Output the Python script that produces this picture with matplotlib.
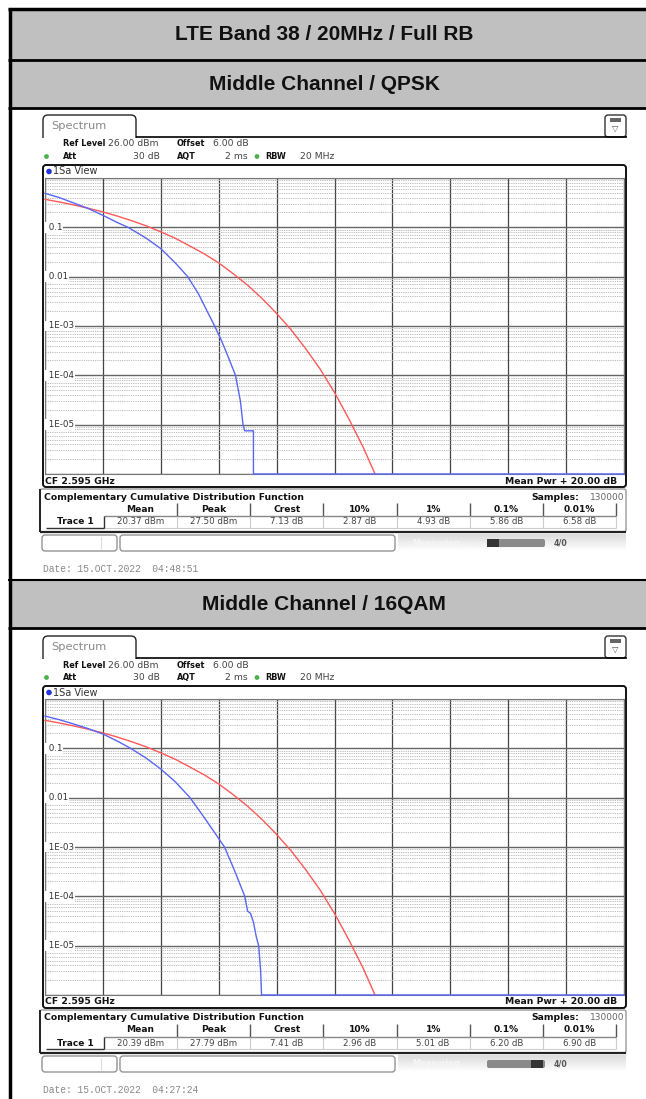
import numpy as np
import matplotlib
matplotlib.use('Agg')
import matplotlib.pyplot as plt
from matplotlib.patches import Rectangle, FancyBboxPatch, Circle
from matplotlib.ticker import LogLocator, MultipleLocator

W, H = 646, 1099

# --- data ---
title_rows = ['LTE Band 38 / 20MHz / Full RB', 'Middle Channel / QPSK', 'Middle Channel / 16QAM']

# red reference trace (Gaussian), dB above mean power vs probability
ref_db = [0, 0.5, 1, 1.5, 2, 2.5, 3, 3.5, 4, 4.5, 5, 5.5, 6, 6.5, 7, 7.5, 8, 8.5, 9, 9.5, 10, 10.5, 11, 11.4]
ref_p = [0.37, 0.326, 0.284, 0.243, 0.205, 0.169, 0.136, 0.107, 0.081, 0.06, 0.042, 0.029, 0.019,
         0.0115, 0.0067, 0.0036, 0.0018, 8.4e-4, 3.5e-4, 1.35e-4, 4.5e-5, 1.3e-5, 3.4e-6, 1e-6]

# blue trace, QPSK
qpsk_db = [0, 0.5, 1.0, 1.5, 2.0, 2.5, 2.87, 3.5, 4.0, 4.5, 4.93, 5.3, 5.6, 5.86, 6.1, 6.35,
           6.58, 6.75, 6.84, 6.9, 7.17, 7.2, 7.2, 20]
qpsk_p = [0.49, 0.40, 0.31, 0.24, 0.175, 0.125, 0.1, 0.06, 0.037, 0.019, 0.01, 0.0045, 0.002, 0.001,
          5e-4, 2.2e-4, 1e-4, 3e-5, 1e-5, 7.5e-6, 7.5e-6, 7.5e-6, 1e-6, 1e-6]

# blue trace, 16QAM
qam16_db = [0, 0.5, 1.0, 1.5, 2.0, 2.5, 2.96, 3.5, 4.0, 4.5, 5.01, 5.4, 5.8, 6.2, 6.55, 6.9,
            7.0, 7.1, 7.2, 7.3, 7.38, 7.45, 7.48, 20]
qam16_p = [0.45, 0.38, 0.31, 0.25, 0.195, 0.14, 0.1, 0.063, 0.038, 0.021, 0.01, 0.0048, 0.0022, 0.001,
           3.3e-4, 1e-4, 5e-5, 4.5e-5, 3e-5, 1.5e-5, 1e-5, 3e-6, 1e-6, 1e-6]

stat_heads = ['Mean', 'Peak', 'Crest', '10%', '1%', '0.1%', '0.01%']
qpsk_stats = ['20.37 dBm', '27.50 dBm', '7.13 dB', '2.87 dB', '4.93 dB', '5.86 dB', '6.58 dB']
qam16_stats = ['20.39 dBm', '27.79 dBm', '7.41 dB', '2.96 dB', '5.01 dB', '6.20 dB', '6.90 dB']
dates = ['Date: 15.OCT.2022  04:48:51', 'Date: 15.OCT.2022  04:27:24']

ytick_vals = [0.1, 0.01, 1e-3, 1e-4, 1e-5]
ytick_labels = ['0.1', '0.01', '1E-03', '1E-04', '1E-05']

RED = '#ff5858'
BLUE = '#5866f4'
SANS = 'DejaVu Sans'

fig = plt.figure(figsize=(W / 100, H / 100), dpi=100)
bg = fig.add_axes([0, 0, 1, 1])
bg.set_xlim(0, W)
bg.set_ylim(H, 0)
bg.axis('off')


def txt(x, y, s, size=6.7, bold=False, color='#111', ha='left', family=SANS, z=5):
    bg.text(x, y, s, fontsize=size, fontweight='bold' if bold else 'normal', color=color,
            ha=ha, va='center', family=family, zorder=z)


def hline(y, x0, x1, color='k', lw=1.0, z=3):
    bg.plot([x0, x1], [y, y], color=color, lw=lw, zorder=z, solid_capstyle='butt')


def vline(x, y0, y1, color='k', lw=1.0, z=3):
    bg.plot([x, x], [y0, y1], color=color, lw=lw, zorder=z, solid_capstyle='butt')


# --- table frame and grey title rows ---
bg.add_patch(Rectangle((10, 9), W - 10, 51, fc='#c0c0c0', ec='none', zorder=1))
bg.add_patch(Rectangle((10, 60), W - 10, 48, fc='#c0c0c0', ec='none', zorder=1))
bg.add_patch(Rectangle((10, 581), W - 10, 47, fc='#c0c0c0', ec='none', zorder=1))
hline(9, 8, W, lw=2.5)
hline(60, 8, W, lw=2)
hline(108, 8, W, lw=2)
hline(580, 8, W, lw=1.5)
hline(628, 8, W, lw=2)
vline(9.5, 8, H, lw=2.5)
for yc, t in zip([35, 84, 605], title_rows):
    txt(324, yc, t, size=15, bold=True, color='#111', ha='center', family='Liberation Sans')


def draw_screen(y0, tr_db, tr_p, stats, date, bar_left):
    # tab "Spectrum"
    bg.add_patch(FancyBboxPatch((43, y0 + 115), 93, 29, boxstyle='round,pad=0,rounding_size=5',
                                fc='white', ec='#222', lw=1.0, zorder=2))
    bg.add_patch(Rectangle((41, y0 + 137.6), 98, 9, fc='white', ec='none', zorder=2.5))
    hline(y0 + 137, 136, 627, lw=1.2)
    txt(51, y0 + 126, 'Spectrum', size=8.2, color='#888')

    # icon top right
    bg.add_patch(FancyBboxPatch((605, y0 + 115), 21, 22, boxstyle='round,pad=0,rounding_size=3',
                                fc='white', ec='#333', lw=1.0, zorder=2))
    bg.add_patch(Rectangle((610, y0 + 118), 11, 4, fc='#666', ec='none', zorder=3))
    txt(615.5, y0 + 128, '\u25bd', size=6, color='#555', ha='center')

    # settings
    txt(63, y0 + 144, 'Ref Level', bold=True, size=5.9)
    txt(108, y0 + 144, '26.00 dBm', color='#444')
    txt(177, y0 + 144, 'Offset', bold=True, size=5.9)
    txt(213, y0 + 144, '6.00 dB', color='#444')
    bg.add_patch(Circle((46.5, y0 + 156.5), 2.4, fc='#4caf50', ec='none', zorder=4))
    txt(63, y0 + 156.5, 'Att', bold=True, size=5.9)
    txt(160, y0 + 156.5, '30 dB', color='#444', ha='right')
    txt(177, y0 + 156.5, 'AQT', bold=True, size=5.9)
    txt(248, y0 + 156.5, '2 ms', color='#444', ha='right')
    bg.add_patch(Circle((257, y0 + 156.5), 2.4, fc='#4caf50', ec='none', zorder=4))
    txt(265, y0 + 156.5, 'RBW', bold=True, size=5.9)
    txt(300, y0 + 156.5, '20 MHz', color='#444')

    # plot box
    bg.add_patch(FancyBboxPatch((43, y0 + 165), 583, 322, boxstyle='round,pad=0,rounding_size=3',
                                fc='white', ec='#111', lw=1.4, zorder=2))
    bg.add_patch(Circle((49, y0 + 171.5), 2.8, fc='#2233dd', ec='none', zorder=4))
    txt(53, y0 + 171.5, '1Sa View', size=7.0, color='#333')
    txt(45, y0 + 481, 'CF 2.595 GHz', bold=True, size=6.7)
    txt(617, y0 + 481, 'Mean Pwr + 20.00 dB', bold=True, size=6.7, ha='right')

    ax = fig.add_axes([45 / W, 1 - (y0 + 474) / H, 579 / W, 296 / H])
    ax.set_zorder(3)
    ax.set_yscale('log')
    ax.set_xlim(0, 20)
    ax.set_ylim(1e-6, 1)
    ax.xaxis.set_major_locator(MultipleLocator(2))
    ax.yaxis.set_major_locator(LogLocator(base=10, numticks=10))
    ax.yaxis.set_minor_locator(LogLocator(base=10, subs=np.arange(2, 10), numticks=10))
    ax.grid(which='minor', axis='y', color='#b4b4b4', lw=0.6, ls=(0, (1.5, 1.2)))
    ax.grid(which='major', axis='y', color='#666', lw=1.0)
    ax.grid(which='major', axis='x', color='#444', lw=0.9)
    ax.tick_params(which='both', length=0, labelleft=False, labelbottom=False)
    for s in ax.spines.values():
        s.set_color('#777')
        s.set_linewidth(0.8)
    for v, lab in zip(ytick_vals, ytick_labels):
        ax.text(0.002, v, ' ' + lab, transform=ax.get_yaxis_transform(), fontsize=6.3, va='center',
                ha='left', color='#333', family=SANS,
                bbox=dict(fc='white', ec='none', pad=0.5))
    ax.plot(ref_db, ref_p, color=RED, lw=1.0, clip_on=False, zorder=4)
    ax.plot(tr_db, tr_p, color=BLUE, lw=1.0, clip_on=False, zorder=5)

    # CCDF result panel
    bg.add_patch(FancyBboxPatch((40, y0 + 489), 586, 43, boxstyle='round,pad=0,rounding_size=2',
                                fc='white', ec='#999', lw=1.0, zorder=2))
    hline(y0 + 532, 40, 626, color='#222', lw=1.6)
    vline(40, y0 + 489, y0 + 532, color='#222', lw=1.4)
    txt(44, y0 + 497, 'Complementary Cumulative Distribution Function', bold=True, size=6.7)
    txt(579, y0 + 497, 'Samples:', bold=True, size=6.7, ha='right')
    txt(624, y0 + 497, '130000', size=6.5, color='#666', ha='right')

    edges = np.linspace(104, 616, len(stat_heads) + 1)
    hline(y0 + 516, 104, 616, color='#888', lw=1.0)
    for i, (hd, val) in enumerate(zip(stat_heads, stats)):
        xc = (edges[i] + edges[i + 1]) / 2
        txt(xc, y0 + 509, hd, bold=True, size=6.6, ha='center')
        txt(xc, y0 + 522, val, size=6.2, color='#444', ha='center')
        vline(edges[i + 1], y0 + 503, y0 + 516, color='#555', lw=1.0)
        vline(edges[i + 1], y0 + 516, y0 + 528, color='#ccc', lw=0.8)
    hline(y0 + 528, 104, 616, color='#ccc', lw=0.8)
    txt(75, y0 + 522, 'Trace 1', bold=True, size=6.5, ha='center')
    hline(y0 + 528, 46, 104, color='#333', lw=1.0)
    vline(104, y0 + 516, y0 + 528, color='#333', lw=1.0)

    # status bar
    bg.add_patch(FancyBboxPatch((42, y0 + 535), 75, 16, boxstyle='round,pad=0,rounding_size=3',
                                fc='white', ec='#888', lw=0.9, zorder=2))
    vline(101, y0 + 537, y0 + 549, color='#ddd', lw=0.8)
    bg.add_patch(FancyBboxPatch((120, y0 + 535), 275, 16, boxstyle='round,pad=0,rounding_size=3',
                                fc='white', ec='#888', lw=0.9, zorder=2))
    grad = np.linspace(0.86, 1.0, 20).reshape(-1, 1)
    bg.imshow(grad, cmap='gray', vmin=0, vmax=1, extent=[398, 626, y0 + 551, y0 + 534],
              aspect='auto', zorder=1.5)
    txt(412, y0 + 543, 'Measuring...', size=5.8, color='#f6f6f6', bold=True)
    bg.add_patch(FancyBboxPatch((487, y0 + 539), 58, 8, boxstyle='round,pad=0,rounding_size=2',
                                fc='#8a8a8a', ec='none', zorder=3))
    bx = 487 if bar_left else 531
    bg.add_patch(Rectangle((bx, y0 + 539), 12, 8, fc='#333', ec='none', zorder=3.5))
    txt(561, y0 + 543, '4/0', size=5.6, bold=True, color='#555', ha='center')

    txt(43, y0 + 569, date, size=6.9, color='#888', family='Liberation Mono')


draw_screen(0, qpsk_db, qpsk_p, qpsk_stats, dates[0], True)
draw_screen(521, qam16_db, qam16_p, qam16_stats, dates[1], False)

bg.set_xlim(0, W)
bg.set_ylim(H, 0)
fig.savefig('out.png', dpi=100)
